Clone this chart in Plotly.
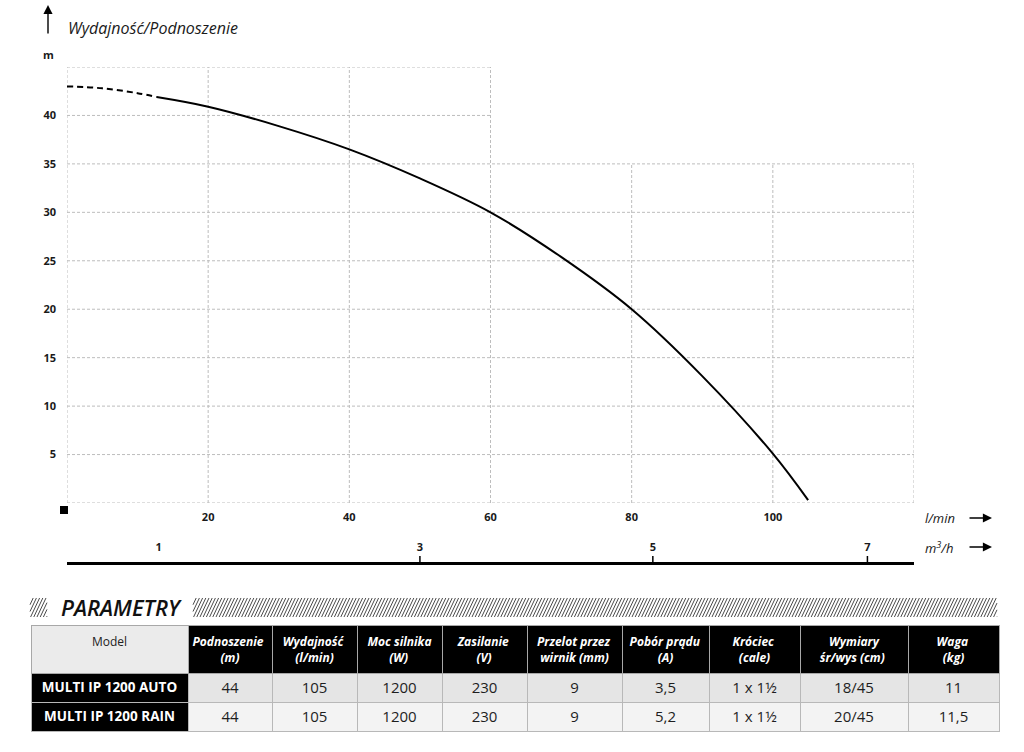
import plotly.graph_objects as go

# ---------------- data ----------------
flow_dashed = [0, 5, 10, 12.7]
head_dashed = [43.0, 42.8, 42.3, 41.9]
flow_solid = [12.7, 20, 30, 40, 50, 60, 70, 80, 90, 100, 105]
head_solid = [41.9, 40.9, 38.9, 36.5, 33.5, 30.0, 25.4, 20.0, 13.1, 5.1, 0.3]

x_ticks = [20, 40, 60, 80, 100]
y_ticks = [5, 10, 15, 20, 25, 30, 35, 40]
grid_x = [0, 20, 40, 60, 80, 100, 120]
grid_y = [0, 5, 10, 15, 20, 25, 30, 35, 40, 45]

m3h_labels = ["1", "3", "5", "7"]
m3h_pos_lmin = [13.0, 50.0, 83.0, 113.4]   # where the labels sit on the l/min scale
m3h_ticked = [False, True, True, True]

table_header = ["Model", "Podnoszenie<br>(m)", "Wydajność<br>(l/min)", "Moc silnika<br>(W)",
                "Zasilanie<br>(V)", "Przelot przez<br>wirnik (mm)", "Pobór prądu<br>(A)",
                "Króciec<br>(cale)", "Wymiary<br>śr/wys (cm)", "Waga<br>(kg)"]
row_auto = ["MULTI IP 1200 AUTO", "44", "105", "1200", "230", "9", "3,5", "1 x 1½", "18/45", "11"]
row_rain = ["MULTI IP 1200 RAIN", "44", "105", "1200", "230", "9", "5,2", "1 x 1½", "20/45", "11,5"]
col_widths = [157, 84, 85, 85, 85, 95, 87, 91, 108, 91]

# ---------------- layout helpers ----------------
W, H = 1024, 752
FONT = "Open Sans"
NBSP = "\u00a0"
def PX(px):
    return px / W
def PY(py):
    return 1 - py / H

GRID_SPLIT_X = 60   # upper grid only spans up to this x
GRID_SPLIT_Y = 35

fig = go.Figure()

fig.add_trace(go.Scatter(x=flow_dashed, y=head_dashed, mode="lines",
                         line=dict(color="black", width=2, dash="6px,4px", shape="spline"),
                         showlegend=False, hoverinfo="skip"))
fig.add_trace(go.Scatter(x=flow_solid, y=head_solid, mode="lines",
                         line=dict(color="black", width=2, shape="spline"),
                         showlegend=False))

shapes = []
grid_line = dict(color="#bdbdbd", width=1, dash="3px,2px")
for gy in grid_y:
    xe = grid_x[-1] if gy <= GRID_SPLIT_Y else GRID_SPLIT_X
    shapes.append(dict(type="line", xref="x", yref="y", x0=0, x1=xe, y0=gy, y1=gy,
                       line=grid_line, layer="below"))
for gx in grid_x:
    ye = grid_y[-1] if gx <= GRID_SPLIT_X else GRID_SPLIT_Y
    shapes.append(dict(type="line", xref="x", yref="y", x0=gx, x1=gx, y0=0, y1=ye,
                       line=grid_line, layer="below"))

# tick marks of the m3/h scale
for pos, t in zip(m3h_pos_lmin, m3h_ticked):
    if t:
        shapes.append(dict(type="line", xref="x2", yref="paper", x0=pos, x1=pos,
                           y0=PY(563), y1=PY(556), line=dict(color="black", width=1.5)))

# black origin square
shapes.append(dict(type="rect", xref="paper", yref="paper", x0=PX(60), x1=PX(68),
                   y0=PY(514), y1=PY(506), fillcolor="black", line=dict(width=0)))

# hatched banner blocks
def hatch_path(xa, xb, ytop, ybot, step=3.2, slant=9.0):
    segs = []
    x0 = xa - slant
    while x0 < xb:
        t0 = max(0.0, (xa - x0) / slant)
        t1 = min(1.0, (xb - x0) / slant)
        if t1 > t0:
            sx, sy = x0 + t0 * slant, ybot - t0 * (ybot - ytop)
            ex, ey = x0 + t1 * slant, ybot - t1 * (ybot - ytop)
            segs.append(f"M{PX(sx):.5f},{PY(sy):.5f} L{PX(ex):.5f},{PY(ey):.5f}")
        x0 += step
    return " ".join(segs)

for xa, xb in [(30, 47), (193, 997)]:
    shapes.append(dict(type="path", xref="paper", yref="paper",
                       path=hatch_path(xa, xb, 598, 617),
                       line=dict(color="#4a4a4a", width=1)))

fig.update_layout(shapes=shapes)

ann = []
ann.append(dict(xref="paper", yref="paper", x=PX(66), y=PY(28), xanchor="left", yanchor="middle",
                text="Wydajność/Podnoszenie", showarrow=False,
                font=dict(family=FONT, size=16, color="#1a1a1a", style="italic")))
ann.append(dict(xref="paper", yref="paper", x=PX(48), y=PY(55), xanchor="center", yanchor="middle",
                text="m", showarrow=False,
                font=dict(family=FONT, size=11, color="#1a1a1a", weight="bold")))
# up arrow
ann.append(dict(xref="paper", yref="paper", x=PX(48), y=PY(5), ax=0, ay=30, text="",
                showarrow=True, arrowhead=2, arrowsize=1.3, arrowwidth=1.4, arrowcolor="black"))
# unit labels + right arrows
for label, py in [("l/min", 518), ("m<sup>3</sup>/h", 547)]:
    ann.append(dict(xref="paper", yref="paper", x=PX(923), y=PY(py), xanchor="left", yanchor="middle",
                    text=label, showarrow=False,
                    font=dict(family=FONT, size=13, color="#1a1a1a", style="italic")))
    ann.append(dict(xref="paper", yref="paper", x=PX(992), y=PY(py), ax=-24, ay=0, text="",
                    showarrow=True, arrowhead=2, arrowsize=1.3, arrowwidth=1.4, arrowcolor="black"))
# PARAMETRY title
ann.append(dict(xref="paper", yref="paper", x=PX(59), y=PY(607), xanchor="left", yanchor="middle",
                text="PARAMETRY", showarrow=False,
                font=dict(family=FONT, size=22, color="#111", style="italic", weight=600)))
fig.update_layout(annotations=ann)

# ---------------- table ----------------
# approximate glyph widths (em) for Open Sans Bold, used to centre each header line
CW = {"a": .59, "b": .62, "c": .51, "d": .62, "e": .58, "f": .39, "g": .55, "h": .63, "i": .29,
      "j": .29, "k": .58, "l": .29, "m": .94, "n": .63, "o": .61, "p": .62, "r": .44, "s": .5,
      "t": .42, "u": .63, "w": .84, "y": .56, "z": .5, " ": .26, "(": .33, ")": .33, "/": .4,
      "W": .95, "A": .69, "V": .66, "M": .9, "P": .64, "K": .66, "Z": .57}
def text_w(s):
    return sum(CW.get(c, .58) for c in s)

def centre_lines(h):
    lines = h.split("<br>")
    wmax = max(text_w(l) for l in lines)
    out = []
    for l in lines:
        n = int(round((wmax - text_w(l)) / 2 / CW[" "]))
        out.append(f"{NBSP * n}{l.replace(' ', NBSP)}{NBSP * n}")
    return "<br>".join(out)

# single-line "Model" header pushed down a line so it sits mid-height like the two-line headers
header_text = ["<br>" + table_header[0]] + [centre_lines(h) for h in table_header[1:]]
columns = [[row_auto[i].replace(" ", NBSP), row_rain[i].replace(" ", NBSP)]
           for i in range(len(table_header))]

ncol = len(table_header)
fig.add_trace(go.Table(
    domain=dict(x=[PX(31), PX(999)], y=[PY(735), PY(625)]),
    columnwidth=col_widths,
    header=dict(values=header_text, height=42, align="center",
                fill=dict(color=["#ebebeb"] + ["black"] * (ncol - 1)),
                font=dict(family=FONT, size=12, color=["#222"] + ["white"] * (ncol - 1),
                          weight=[400] + [700] * (ncol - 1),
                          style=["normal"] + ["italic"] * (ncol - 1)),
                line=dict(color="#a8a8a8", width=1)),
    cells=dict(values=columns, height=29, align="center",
               fill=dict(color=[["black", "black"]] + [["#e5e5e5", "#f3f3f3"]] * (ncol - 1)),
               font=dict(family=FONT, size=[13.5] + [15] * (ncol - 1),
                         color=["white"] + ["#1e1e1e"] * (ncol - 1),
                         weight=[700] + [400] * (ncol - 1)),
               line=dict(color="#b8b8b8", width=1)),
))

fig.update_layout(
    width=W, height=H,
    margin=dict(l=0, r=0, t=0, b=0, autoexpand=False),
    paper_bgcolor="white", plot_bgcolor="white",
    showlegend=False,
    xaxis=dict(domain=[PX(67), PX(914)], range=[0, 120], tickvals=x_ticks,
               showgrid=False, zeroline=False, showline=False, ticks="",
               ticklabelstandoff=6,
               tickfont=dict(family=FONT, size=11, color="#1a1a1a", weight="bold"),
               anchor="y"),
    yaxis=dict(domain=[PY(503), PY(67)], range=[0, 45], tickvals=y_ticks,
               showgrid=False, zeroline=False, showline=False, ticks="",
               ticklabelstandoff=10,
               tickfont=dict(family=FONT, size=11, color="#1a1a1a", weight="bold")),
    xaxis2=dict(domain=[PX(67), PX(914)], range=[0, 120], overlaying="x", anchor="free",
                position=PY(563), side="top", tickvals=m3h_pos_lmin, ticktext=m3h_labels,
                showgrid=False, zeroline=False, showline=True, linecolor="black", linewidth=2.5,
                ticks="", ticklabelstandoff=7,
                tickfont=dict(family=FONT, size=11, color="#1a1a1a", weight="bold")),
)
# invisible trace to activate x2
fig.add_trace(go.Scatter(x=[0], y=[0], xaxis="x2", yaxis="y", mode="markers",
                         marker=dict(opacity=0), showlegend=False, hoverinfo="skip"))

fig.write_html("out.html", config={"displayModeBar": False},
               post_script="document.body.style.margin='0';document.body.style.overflow='hidden';")
